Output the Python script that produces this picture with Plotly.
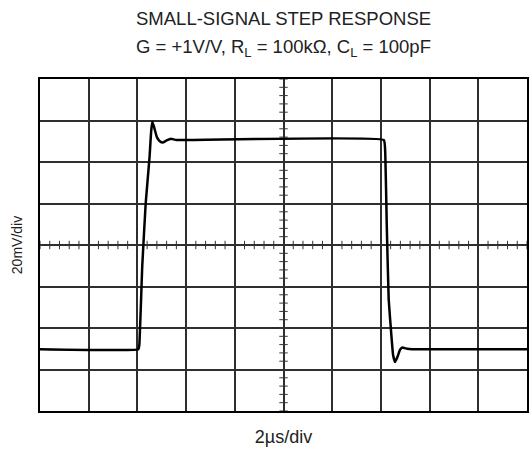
import numpy as np
import plotly.graph_objects as go

# Time in microseconds (2 µs/div), voltage in mV (20 mV/div)
time_us = [0, 4.04, 4.08, 4.2, 4.34, 4.5, 4.56, 4.61, 4.68, 4.8, 4.92, 5.04, 5.2, 5.38, 5.6,
           14.12, 14.18, 14.24, 14.32, 14.44, 14.5, 14.58, 14.68, 14.78, 14.88, 15.08, 15.28, 20]
volt_mv = [29.8, 29.8, 32, 70, 100, 122.6, 134, 139.4, 137, 132, 130, 129.4, 130.4, 131.2, 130.6,
           130.6, 124, 90, 53.8, 35, 27, 23.6, 26, 29.4, 30.6, 30, 29.8, 29.8]

title_line1 = "SMALL-SIGNAL STEP RESPONSE"
title_line2 = "G = +1V/V, R<sub>L</sub> = 100kΩ, C<sub>L</sub> = 100pF"
x_label = "2µs/div"
y_label = "20mV/div"

x_range = [0, 20]
y_range = [0, 160]
x_div = 2
y_div = 20
minor_x = np.arange(0, 20.001, 0.4)
minor_y = np.arange(0, 160.001, 4)

FONT = "Liberation Sans, Arial, sans-serif"
TXT = "#222"

fig = go.Figure()

# center-axis minor tick marks
fig.add_trace(go.Scatter(x=minor_x, y=[80] * len(minor_x), mode="markers",
                         marker=dict(symbol="line-ns", size=6, line=dict(color="#333", width=1)),
                         hoverinfo="skip", showlegend=False))
fig.add_trace(go.Scatter(x=[10] * len(minor_y), y=minor_y, mode="markers",
                         marker=dict(symbol="line-ew", size=6, line=dict(color="#333", width=1)),
                         hoverinfo="skip", showlegend=False))

fig.add_trace(go.Scatter(x=time_us, y=volt_mv, mode="lines",
                         line=dict(color="black", width=2.5, shape="spline", smoothing=0.3),
                         showlegend=False))

fig.update_xaxes(range=x_range, dtick=x_div, showgrid=True, gridcolor="#2e2e2e", gridwidth=1.5,
                 showticklabels=False, zeroline=False, showline=True, linecolor="black",
                 linewidth=2, mirror=True, ticks="",
                 title=dict(text=x_label, font=dict(size=18, color=TXT, family=FONT), standoff=18))
fig.update_yaxes(range=y_range, dtick=y_div, showgrid=True, gridcolor="#2e2e2e", gridwidth=1.5,
                 showticklabels=False, zeroline=False, showline=True, linecolor="black",
                 linewidth=2, mirror=True, ticks="",
                 title=dict(text=y_label, font=dict(size=14, color=TXT, family=FONT), standoff=12))

fig.add_annotation(text=title_line1, xref="paper", yref="paper", x=0.5, y=1, yshift=61,
                   showarrow=False, font=dict(size=18.5, color=TXT, family=FONT), yanchor="middle")
fig.add_annotation(text=title_line2, xref="paper", yref="paper", x=0.5, y=1, yshift=31,
                   showarrow=False, font=dict(size=18.5, color=TXT, family=FONT), yanchor="middle")

fig.update_layout(width=530, height=452, margin=dict(l=40, r=1, t=79, b=41),
                  plot_bgcolor="white", paper_bgcolor="white", font=dict(family=FONT))

fig.write_html("out.html", post_script="document.body.style.margin='0';",
               config={"displayModeBar": False})
